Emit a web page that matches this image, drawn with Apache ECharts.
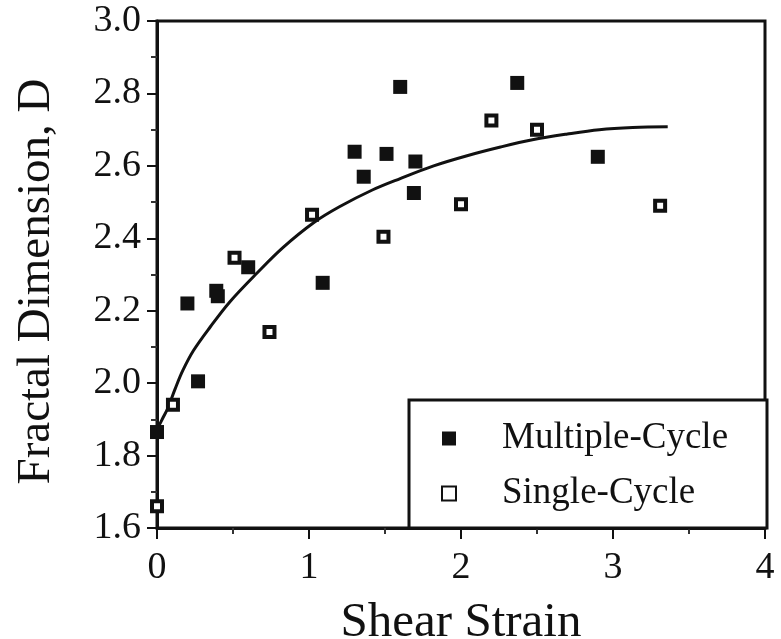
<!DOCTYPE html>
<html>
<head>
<meta charset="utf-8">
<script src="https://cdn.jsdelivr.net/npm/echarts@6/dist/echarts.min.js"></script>
<style>html,body{margin:0;padding:0;background:#fff;}#c{width:781px;height:639px;}</style>
</head>
<body>
<div id="c"></div>
<script>
// Data
var multipleCycle = [
  [0.00, 1.865], [0.20, 2.220], [0.27, 2.005], [0.39, 2.255], [0.40, 2.240],
  [0.60, 2.320], [1.09, 2.277], [1.30, 2.639], [1.36, 2.570], [1.51, 2.633],
  [1.60, 2.818], [1.70, 2.612], [1.69, 2.525], [2.37, 2.829], [2.90, 2.625]
];
var singleCycle = [
  [0.00, 1.660], [0.105, 1.940], [0.51, 2.346], [0.74, 2.141], [1.02, 2.465],
  [1.49, 2.404], [2.00, 2.494], [2.20, 2.725], [2.50, 2.700], [3.31, 2.490]
];
var fitCurve = [
  [0.01, 1.880], [0.04, 1.905], [0.07, 1.930], [0.12, 1.985], [0.17, 2.035],
  [0.24, 2.090], [0.35, 2.155], [0.48, 2.225], [0.66, 2.305], [0.83, 2.375],
  [1.03, 2.443], [1.20, 2.487], [1.42, 2.534], [1.60, 2.565], [1.82, 2.600],
  [2.04, 2.628], [2.26, 2.652], [2.47, 2.672], [2.70, 2.688], [2.91, 2.700],
  [3.13, 2.706], [3.36, 2.708]
];
var seriesNames = ['Multiple-Cycle', 'Single-Cycle'];
var xAxisName = 'Shear Strain';
var yAxisName = 'Fractal Dimension, D';

var FONT = '"Liberation Serif", "DejaVu Serif", serif';
var chart = echarts.init(document.getElementById('c'));
chart.setOption({
  backgroundColor: '#fff',
  animation: false,
  grid: {
    left: 157, right: 16, top: 21, bottom: 111,
    containLabel: false, outerBoundsMode: 'none',
    show: true, borderColor: '#111', borderWidth: 3, backgroundColor: 'transparent'
  },
  graphic: [{
    type: 'rect', z: 5,
    shape: { x: 409, y: 400, width: 358, height: 128 },
    style: { fill: '#fff', stroke: '#111', lineWidth: 3 }
  }],
  legend: {
    z: 10,
    orient: 'vertical',
    left: 441, top: 420,
    padding: 0,
    itemGap: 18,
    itemWidth: 14, itemHeight: 14,
    data: seriesNames,
    textStyle: { fontFamily: FONT, fontSize: 37, color: '#111', lineHeight: 36, padding: [0, 0, 0, 41] }
  },
  xAxis: {
    type: 'value', min: 0, max: 4, interval: 1,
    name: xAxisName, nameLocation: 'middle', nameGap: 71,
    nameTextStyle: { fontFamily: FONT, fontSize: 49, color: '#111' },
    axisLine: { show: true, lineStyle: { color: '#111', width: 3 } },
    axisTick: { show: true, inside: false, length: 11, lineStyle: { color: '#111', width: 2 } },
    minorTick: { show: true, splitNumber: 2, length: 6, lineStyle: { color: '#333', width: 2 } },
    axisLabel: { fontFamily: FONT, fontSize: 38, color: '#111', margin: 21 },
    splitLine: { show: false }
  },
  yAxis: {
    type: 'value', min: 1.6, max: 3.0, interval: 0.2,
    name: yAxisName, nameLocation: 'middle', nameGap: 97, nameRotate: 90,
    nameTextStyle: { fontFamily: FONT, fontSize: 47, color: '#111', padding: [0, 14, 0, 0] },
    axisLine: { show: true, lineStyle: { color: '#111', width: 3 } },
    axisTick: { show: true, inside: false, length: 10, lineStyle: { color: '#111', width: 2 } },
    minorTick: { show: true, splitNumber: 2, length: 6, lineStyle: { color: '#333', width: 2 } },
    axisLabel: { fontFamily: FONT, fontSize: 38, color: '#111', margin: 16,
      formatter: function (v) { return v.toFixed(1); } },
    splitLine: { show: false }
  },
  series: [
    {
      name: 'fit', type: 'line', data: fitCurve, smooth: 0.35, symbol: 'none',
      lineStyle: { color: '#111', width: 3 }, z: 2, legendHoverLink: false
    },
    {
      name: seriesNames[0], type: 'scatter', data: multipleCycle,
      symbol: 'rect', symbolSize: 14,
      itemStyle: { color: '#111', opacity: 1 }, z: 3
    },
    {
      name: seriesNames[1], type: 'scatter', data: singleCycle,
      symbol: 'rect', symbolSize: 10,
      itemStyle: { color: '#fff', borderColor: '#111', borderWidth: 4, opacity: 1 }, z: 3
    }
  ]
});
</script>
</body>
</html>
